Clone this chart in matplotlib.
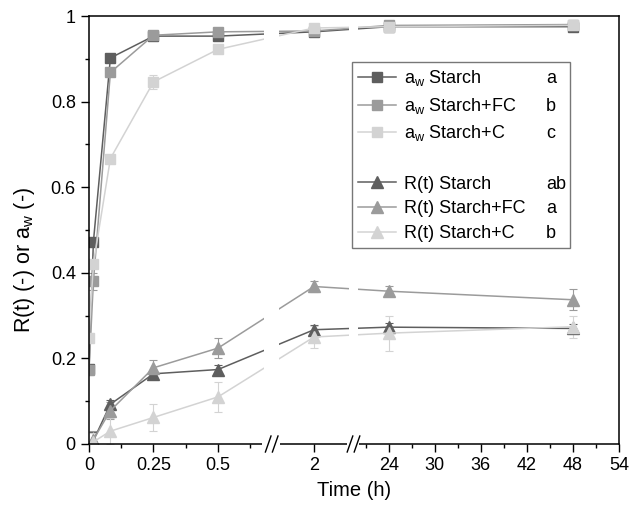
import numpy as np
import matplotlib
matplotlib.use('Agg')
import matplotlib.pyplot as plt
from matplotlib.lines import Line2D
from matplotlib.patches import Rectangle

plt.rcParams['font.family'] = ['Liberation Sans', 'DejaVu Sans']
plt.rcParams['mathtext.fontset'] = 'custom'
plt.rcParams['mathtext.rm'] = 'Liberation Sans'

# time points (h)
t_aw = [0, 0.017, 0.083, 0.25, 0.5, 2, 24, 48]
t_r = [0.017, 0.083, 0.25, 0.5, 2, 24, 48]

aw_starch = [0.175, 0.472, 0.902, 0.953, 0.953, 0.963, 0.975, 0.975]
aw_starch_err = [0.01, 0.01, 0.005, 0.005, 0.005, 0.005, 0.008, 0.008]
aw_fc = [0.172, 0.380, 0.868, 0.955, 0.963, 0.965, 0.978, 0.980]
aw_fc_err = [0.01, 0.02, 0.005, 0.008, 0.005, 0.005, 0.008, 0.01]
aw_c = [0.248, 0.421, 0.667, 0.846, 0.922, 0.972, 0.975, 0.978]
aw_c_err = [0.01, 0.01, 0.005, 0.017, 0.005, 0.008, 0.01, 0.008]

r_starch = [0.008, 0.093, 0.164, 0.174, 0.267, 0.273, 0.270]
r_starch_err = [0.02, 0.01, 0.01, 0.01, 0.01, 0.01, 0.01]
r_fc = [0.010, 0.078, 0.178, 0.224, 0.368, 0.357, 0.337]
r_fc_err = [0.02, 0.02, 0.019, 0.024, 0.012, 0.012, 0.024]
r_c = [0.005, 0.030, 0.062, 0.110, 0.250, 0.259, 0.274]
r_c_err = [0.02, 0.03, 0.032, 0.036, 0.025, 0.041, 0.026]

aw_labels = ['a$_\\mathregular{w}$ Starch', 'a$_\\mathregular{w}$ Starch+FC', 'a$_\\mathregular{w}$ Starch+C']
r_labels = ['R(t) Starch', 'R(t) Starch+FC', 'R(t) Starch+C']
aw_letters = ['a', 'b', 'c']
r_letters = ['ab', 'a', 'b']

xticks = [0, 0.25, 0.5, 2, 24, 30, 36, 42, 48, 54]
xticklabels = ['0', '0.25', '0.5', '2', '24', '30', '36', '42', '48', '54']
xminor = [0.125, 0.375, 0.625, 21, 27, 33, 39, 45, 51]
yticks = [0, 0.2, 0.4, 0.6, 0.8, 1]
yticklabels = ['0', '0.2', '0.4', '0.6', '0.8', '1']

colors = ['#5e5e5e', '#9b9b9b', '#d3d3d3']

# broken x axis: piecewise linear scale (data -> axis length units)
seg_data = [-10, 0, 0.68, 1.5, 2.5, 20, 54, 200]
seg_pos = [-2580, 0, 175.4, 190, 260, 269, 530, 1650.7]
breaks = [(0.68, 1.5), (2.5, 20)]


def forward(x):
    return np.interp(x, seg_data, seg_pos)


def inverse(u):
    return np.interp(u, seg_pos, seg_data)


fig = plt.figure(figsize=(6.3, 5.11), dpi=100)
ax = fig.add_axes([89 / 630, 1 - 444 / 511, 530 / 630, 428 / 511])
ax.set_xscale('function', functions=(forward, inverse))

for y, e, c in zip([aw_starch, aw_fc, aw_c], [aw_starch_err, aw_fc_err, aw_c_err], colors):
    ax.errorbar(t_aw, y, yerr=e, color=c, marker='s', ms=7.5, lw=1.1,
                elinewidth=0.8, capsize=3.2, capthick=0.8)
for y, e, c in zip([r_starch, r_fc, r_c], [r_starch_err, r_fc_err, r_c_err], colors):
    ax.errorbar(t_r, y, yerr=e, color=c, marker='^', ms=8.5, lw=1.1,
                elinewidth=0.8, capsize=3.2, capthick=0.8)

ax.set_xlim(0, 54)
ax.set_ylim(0, 1)

# white bands where the axis is broken
for b0, b1 in breaks:
    ax.axvspan(b0, b1, color='white', lw=0, zorder=2.2)

# gaps and // marks on the bottom axis
W, H = 530.0, 428.0
for b0, b1 in breaks:
    p0, p1 = forward(b0), forward(b1)
    ax.add_patch(Rectangle(((p0 - 2) / W, -3 / H), (p1 - p0 + 3) / W, 6 / H,
                           transform=ax.transAxes, facecolor='white',
                           edgecolor='none', clip_on=False, zorder=3))
    pc = (p0 + p1) / 2
    for dx in (-3.5, 3.5):
        ax.plot([(pc + dx - 2.8) / W, (pc + dx + 2.8) / W], [-8 / H, 8 / H],
                color='black', lw=1.0, transform=ax.transAxes, clip_on=False, zorder=4)

ax.set_xticks(xticks)
ax.set_xticklabels(xticklabels)
ax.set_xticks(xminor, minor=True)
ax.set_yticks(yticks)
ax.set_yticklabels(yticklabels)
ax.set_yticks(np.arange(0.1, 1.0, 0.2), minor=True)
ax.tick_params(which='major', direction='out', length=5.5, width=1.0, labelsize=13, pad=4)
ax.tick_params(which='minor', direction='out', length=3, width=1.0)
for s in ax.spines.values():
    s.set_linewidth(1.1)

ax.set_xlabel('Time (h)', fontsize=14.5, labelpad=5)
ax.set_ylabel('R(t) (-) or a$_\\mathregular{w}$ (-)', fontsize=15.5)
ax.yaxis.set_label_coords(-0.098, 0.43)

handles = [Line2D([], [], color=c, marker='s', ms=7, lw=1.1) for c in colors]
handles.append(Line2D([], [], color='none'))
handles += [Line2D([], [], color=c, marker='^', ms=8, lw=1.1) for c in colors]
labels = aw_labels + [' '] + r_labels
leg = ax.legend(handles, labels, loc='upper left',
                bbox_to_anchor=(0.496, 0.46, 0.4115, 0.4325), mode='expand',
                borderaxespad=0, fontsize=13, handlelength=2.1,
                handletextpad=0.45, labelspacing=0.42, borderpad=0.35,
                fancybox=False, framealpha=1, edgecolor='#777777')
leg.get_frame().set_linewidth(1.0)

fig.canvas.draw()
letters = aw_letters + [''] + r_letters
inv = ax.transAxes.inverted()
for t, let in zip(leg.get_texts(), letters):
    if not let:
        continue
    xd, yd = t.get_transform().transform(t.get_position())
    xa, ya = inv.transform((xd, yd))
    ax.text((546 - 89) / W, ya, let, fontsize=13, va='baseline', ha='left',
            transform=ax.transAxes, zorder=6)

fig.savefig('out.png', dpi=100)
